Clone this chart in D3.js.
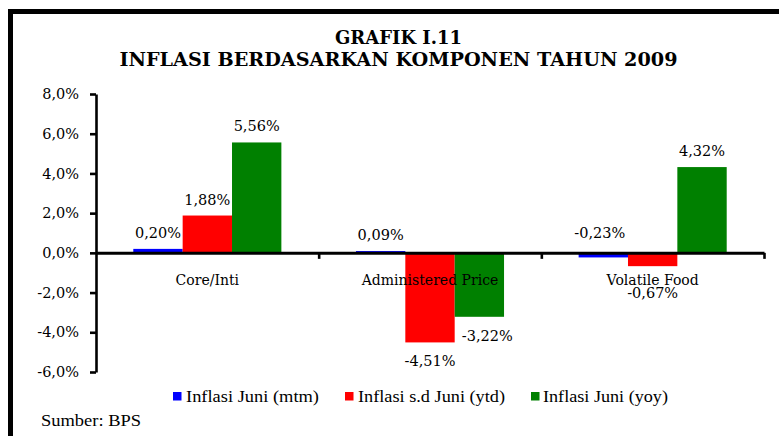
<!DOCTYPE html>
<html>
<head>
<meta charset="utf-8">
<script src="https://cdn.jsdelivr.net/npm/d3@7"></script>
<style>
  html, body { margin: 0; padding: 0; background: #fff; }
  svg { display: block; }
</style>
</head>
<body>
<svg id="chart" width="779" height="436"></svg>
<script>
// ---------------- data ----------------
const titleLines = ["GRAFIK I.11", "INFLASI BERDASARKAN KOMPONEN TAHUN 2009"];
const categories = ["Core/Inti", "Administered Price", "Volatile Food"];
const seriesNames = ["Inflasi Juni (mtm)", "Inflasi s.d Juni (ytd)", "Inflasi Juni (yoy)"];
const mtm = [0.20, 0.09, -0.23];
const ytd = [1.88, -4.51, -0.67];
const yoy = [5.56, -3.22, 4.32];
const yTicks = [-6, -4, -2, 0, 2, 4, 6, 8];
const sourceText = "Sumber: BPS";

// ---------------- layout / style ----------------
const colors = ["#0000ff", "#ff0000", "#008000"];
const plot = { left: 96, right: 764, top: 94, bottom: 372 };
const groupFrac = 0.665;
// manual label nudges [series][category] = [dx, dy]
const labelNudge = [
  [[0, 0], [0, 0], [-3.5, -43.5]],
  [[0, 0], [0, 0], [0, 8]],
  [[0, 0], [8, 0], [0, 0]]
];
const legendLayout = [
  { sx: 173, tx: 186, w: 133 },
  { sx: 345, tx: 358, w: 147 },
  { sx: 531, tx: 543, w: 125 }
];

const seriesValues = [mtm, ytd, yoy];
const svg = d3.select("#chart");
const serif = "'DejaVu Serif', serif";
const legendFont = "'Liberation Serif', serif";

// frame
svg.append("rect")
  .attr("x", 10.5).attr("y", 11.5)
  .attr("width", 900).attr("height", 600)
  .attr("fill", "none").attr("stroke", "#000").attr("stroke-width", 5);

// title
const titleY = [44, 65.5];
const titleW = [127, 558];
titleLines.forEach((t, i) => {
  svg.append("text")
    .attr("x", 398.5).attr("y", titleY[i])
    .attr("text-anchor", "middle")
    .attr("font-family", serif).attr("font-weight", "bold")
    .attr("font-size", 18.5)
    .attr("textLength", titleW[i]).attr("lengthAdjust", "spacingAndGlyphs")
    .text(t);
});

// scales
const y = d3.scaleLinear().domain([-6, 8]).range([plot.bottom, plot.top]);
const x0 = d3.scaleBand().domain(categories).range([plot.left, plot.right]).paddingInner(0).paddingOuter(0);
const bw = x0.bandwidth();
const gw = bw * groupFrac;
const x1 = d3.scaleBand().domain(d3.range(seriesNames.length)).range([(bw - gw) / 2, (bw + gw) / 2]).padding(0);

const fmt = (v, d) => d3.format("." + d + "f")(v).replace(".", ",").replace("−", "-");

// bars
seriesValues.forEach((vals, s) => {
  svg.append("g").selectAll("rect")
    .data(vals)
    .join("rect")
    .attr("x", (d, i) => x0(categories[i]) + x1(s))
    .attr("width", x1.bandwidth())
    .attr("y", d => y(Math.max(0, d)))
    .attr("height", d => Math.abs(y(d) - y(0)))
    .attr("fill", colors[s]);
});

// y axis
const yAxis = d3.axisLeft(y).tickValues(yTicks).tickSize(6).tickSizeOuter(0).tickPadding(11)
  .tickFormat(d => fmt(d, 1) + "%");
const yg = svg.append("g").attr("transform", `translate(${plot.left},0)`).call(yAxis);
yg.select(".domain").attr("stroke", "#000").attr("stroke-width", 2.6);
yg.selectAll(".tick line").attr("stroke", "#000").attr("stroke-width", 2.6);
yg.selectAll(".tick text").attr("font-family", serif).attr("font-size", 14.5).attr("fill", "#000");

// x axis (zero line) with ticks at category boundaries
const xTickScale = d3.scaleLinear().domain([plot.left, plot.right]).range([plot.left, plot.right]);
const boundaries = categories.map(c => x0(c) + bw);
const xAxis = d3.axisBottom(xTickScale).tickValues(boundaries).tickSize(6).tickSizeOuter(0).tickFormat("");
const xg = svg.append("g").attr("transform", `translate(0,${y(0)})`).call(xAxis);
xg.select(".domain").attr("stroke", "#000").attr("stroke-width", 3);
xg.selectAll(".tick line").attr("stroke", "#000").attr("stroke-width", 2.6);

// category labels
svg.append("g").selectAll("text")
  .data(categories)
  .join("text")
  .attr("x", d => x0(d) + bw / 2)
  .attr("y", y(0) + 32)
  .attr("text-anchor", "middle")
  .attr("font-family", serif).attr("font-size", 14).attr("fill", "#000")
  .text(d => d);

// value labels
seriesValues.forEach((vals, s) => {
  svg.append("g").selectAll("text")
    .data(vals)
    .join("text")
    .attr("x", (d, i) => x0(categories[i]) + x1(s) + x1.bandwidth() / 2 + labelNudge[s][i][0])
    .attr("y", (d, i) => (d >= 0 ? y(d) - 11 : y(d) + 24) + labelNudge[s][i][1])
    .attr("text-anchor", "middle")
    .attr("font-family", serif).attr("font-size", 14.5).attr("fill", "#000")
    .text(d => fmt(d, 2) + "%");
});

// legend
seriesNames.forEach((n, i) => {
  const L = legendLayout[i];
  svg.append("rect").attr("x", L.sx).attr("y", 392).attr("width", 8.5).attr("height", 8.5).attr("fill", colors[i]);
  svg.append("text")
    .attr("x", L.tx).attr("y", 402)
    .attr("font-family", legendFont).attr("font-size", 16.5).attr("fill", "#000")
    .attr("textLength", L.w).attr("lengthAdjust", "spacingAndGlyphs")
    .text(n);
});

// source
svg.append("text")
  .attr("x", 41).attr("y", 426)
  .attr("font-family", legendFont).attr("font-size", 16.5).attr("fill", "#000")
  .attr("textLength", 100).attr("lengthAdjust", "spacingAndGlyphs")
  .text(sourceText);
</script>
</body>
</html>
